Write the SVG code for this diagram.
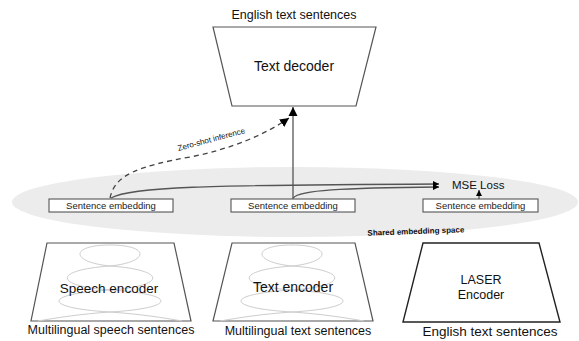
<svg xmlns="http://www.w3.org/2000/svg" width="579" height="341" viewBox="0 0 579 341">
<style>
text{font-family:"Liberation Sans",Arial,sans-serif;fill:#111}
.trap{fill:#fff;stroke:#555;stroke-width:1.2}
.box{fill:#fff;stroke:#555;stroke-width:1.1}
.lobe{fill:none;stroke:#cdcdcd;stroke-width:1}
.conn{fill:none;stroke:#555;stroke-width:1.3}
.se{font-size:9.5px;text-anchor:middle;fill:#222}
.lbl{text-anchor:middle}
</style>
<defs>
<marker id="ah" viewBox="0 0 10 10" refX="10" refY="5" markerWidth="9" markerHeight="11" markerUnits="userSpaceOnUse" orient="auto">
<path d="M0,0 L10,5 L0,10 Z" fill="#000"/>
</marker>
<marker id="ahs" viewBox="0 0 10 10" refX="10" refY="5" markerWidth="6" markerHeight="6" markerUnits="userSpaceOnUse" orient="auto">
<path d="M0,0 L10,5 L0,10 Z" fill="#000"/>
</marker>
<g id="lobes" class="lobe">
<path d="M0,245 C-40,245 -40,262 0,266 C40,262 40,245 0,245"/>
<path d="M0,266 C-57,270 -57,286 0,290 C57,286 57,270 0,266"/>
<path d="M0,290 C-68,294 -68,308 0,312 C68,308 68,294 0,290"/>
<path d="M0,312 C-30,314 -55,318 -72,321 M0,312 C30,314 55,318 72,321"/>
</g>
</defs>

<g id="shared-space">
<ellipse cx="295" cy="202" rx="283" ry="35" fill="#ececec"/>
<text x="416" y="234" font-size="8px" font-weight="bold" text-anchor="middle" transform="rotate(-2 416 234)">Shared embedding space</text>
</g>

<g id="text-decoder">
<text class="lbl" x="294" y="19" font-size="12.5px">English text sentences</text>
<polygon class="trap" points="213,27 376,27 356,106 232,106"/>
<text class="lbl" x="294" y="71" font-size="14px">Text decoder</text>
</g>

<g id="emb-speech">
<rect class="box" x="49" y="199" width="124" height="13"/>
<text class="se" x="111" y="209">Sentence embedding</text>
</g>
<g id="emb-text">
<rect class="box" x="231" y="199" width="124" height="13"/>
<text class="se" x="293" y="209">Sentence embedding</text>
</g>
<g id="emb-laser">
<rect class="box" x="423" y="199" width="115" height="13"/>
<text class="se" x="480.5" y="209">Sentence embedding</text>
</g>

<g id="mse-loss">
<text x="452" y="189" font-size="11.5px">MSE Loss</text>
</g>

<g id="speech-encoder">
<polygon class="trap" points="47,243 174,243 191,321 31,321"/>
<use href="#lobes" x="110"/>
<text class="lbl" x="109" y="293" font-size="13.5px">Speech encoder</text>
<text class="lbl" x="111" y="334" font-size="12.5px">Multilingual speech sentences</text>
</g>

<g id="text-encoder">
<polygon class="trap" points="232,243 355,243 373,321 213,321"/>
<use href="#lobes" x="292"/>
<text class="lbl" x="293" y="292" font-size="14px">Text encoder</text>
<text class="lbl" x="298" y="335" font-size="12.5px">Multilingual text sentences</text>
</g>

<g id="laser-encoder">
<polygon class="trap" points="423,243 539,243 560,322 403,322" style="stroke:#222;stroke-width:1.4"/>
<text class="lbl" x="481" y="284" font-size="12.5px">LASER</text>
<text class="lbl" x="481" y="299" font-size="12.5px">Encoder</text>
<text class="lbl" x="490" y="336" font-size="13.5px">English text sentences</text>
</g>

<g id="connectors">
<path class="conn" d="M293,199 L293,107" marker-end="url(#ah)"/>
<path class="conn" d="M111,198 C130,187 200,185 439,184" marker-end="url(#ahs)"/>
<path class="conn" d="M293,198 C300,190 340,188 439,187" marker-end="url(#ahs)"/>
<path class="conn" d="M479,199 L479,190" marker-end="url(#ahs)"/>
<path class="conn" d="M110,198 C115,174 140,166 190,157 C232,149 268,133 289,118" stroke-dasharray="5,4" style="stroke:#444" marker-end="url(#ah)"/>
<text x="212" y="142" font-size="8px" text-anchor="middle" transform="rotate(-15 212 142)">Zero-shot inference</text>
</g>
</svg>
